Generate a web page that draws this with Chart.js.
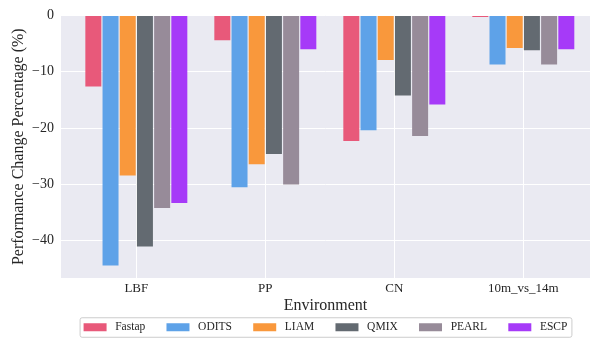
<!DOCTYPE html>
<html lang="en">
<head>
    <meta charset="UTF-8">
    <title>Performance Change Percentage</title>
    <script src="https://cdn.jsdelivr.net/npm/chart.js"></script>
    <style>
        body { margin: 0; background: #fff; }
        #wrap { width: 590px; height: 339px; }
    </style>
</head>
<body>
    <div id="wrap"><canvas id="perfChart" width="590" height="339"></canvas></div>
    <script>
        // Environments on the x axis
        const environments = ['LBF', 'PP', 'CN', '10m_vs_14m'];
        const methods = ['Fastap', 'ODITS', 'LIAM', 'QMIX', 'PEARL', 'ESCP'];
        const colors = ['#E8597A', '#5EA2E8', '#F9983C', '#636A71', '#978B99', '#A63AF8'];

        // performance change (%) per method, one value per environment
        const fastap = [-12.6, -4.4, -22.3, -0.3];
        const odits = [-44.4, -30.5, -20.4, -8.7];
        const liam = [-28.4, -26.4, -7.9, -5.8];
        const qmix = [-41.0, -24.6, -14.2, -6.2];
        const pearl = [-34.2, -30.0, -21.4, -8.7];
        const escp = [-33.3, -6.0, -15.8, -6.0];
        const seriesValues = [fastap, odits, liam, qmix, pearl, escp];

        const yTicks = [-40, -30, -20, -10, 0];

        const serif = 'Liberation Serif, Times New Roman, serif';
        const textColor = '#262626';

        const datasets = methods.map((name, i) => ({
            label: name,
            data: seriesValues[i].map((v, j) => ({ x: j, y: v })),
            backgroundColor: colors[i],
            borderWidth: 0,
            categoryPercentage: 0.8,
            barPercentage: 0.93
        }));

        // grey plot background like seaborn darkgrid
        const plotBackground = {
            id: 'plotBackground',
            beforeDraw(chart) {
                const { ctx, chartArea: a } = chart;
                ctx.save();
                ctx.fillStyle = '#EAEAF2';
                ctx.fillRect(a.left, a.top, a.right - a.left, a.bottom - a.top);
                ctx.restore();
            }
        };

        // frame round the legend
        const legendFrame = {
            id: 'legendFrame',
            afterDraw(chart) {
                const boxes = chart.legend.legendHitBoxes;
                if (!boxes || !boxes.length) return;
                const first = boxes[0];
                const last = boxes[boxes.length - 1];
                const cy = first.top + first.height / 2;
                const x = first.left - 4;
                const w = last.left + last.width + 4 - x;
                const ctx = chart.ctx;
                ctx.save();
                ctx.strokeStyle = '#CCCCCC';
                ctx.lineWidth = 1;
                ctx.beginPath();
                ctx.roundRect(x + 0.5, cy - 9.5, w, 19.5, 2);
                ctx.stroke();
                ctx.restore();
            }
        };

        new Chart(document.getElementById('perfChart'), {
            type: 'bar',
            data: { datasets: datasets },
            options: {
                responsive: false,
                animation: false,
                layout: { padding: { top: 15, right: 0, bottom: -4, left: 0 } },
                scales: {
                    x: {
                        type: 'linear',
                        offset: false,
                        min: -0.584,
                        max: 3.517,
                        afterBuildTicks: axis => { axis.ticks = environments.map((e, i) => ({ value: i })); },
                        afterFit: axis => { axis.height = 39.5; },
                        ticks: {
                            callback: v => environments[v],
                            color: textColor,
                            font: { family: serif, size: 13 },
                            padding: 3,
                            maxRotation: 0
                        },
                        grid: { color: '#FFFFFF', lineWidth: 1, drawTicks: false, offset: false },
                        border: { display: false },
                        title: {
                            display: true,
                            text: 'Environment',
                            color: textColor,
                            font: { family: serif, size: 16 },
                            padding: { top: 0, bottom: 2 }
                        }
                    },
                    y: {
                        min: -46.6,
                        max: 0,
                        afterBuildTicks: axis => { axis.ticks = yTicks.map(v => ({ value: v })); },
                        afterFit: axis => { axis.width = 61; },
                        ticks: {
                            callback: v => (v < 0 ? '\u2212' + Math.abs(v) : String(v)),
                            color: textColor,
                            font: { family: serif, size: 14 },
                            padding: 7
                        },
                        grid: { color: '#FFFFFF', lineWidth: 1, drawTicks: false },
                        border: { display: false },
                        title: {
                            display: true,
                            text: 'Performance Change Percentage (%)',
                            color: textColor,
                            font: { family: serif, size: 16 },
                            padding: { top: 9, bottom: 0 }
                        }
                    }
                },
                plugins: {
                    legend: {
                        position: 'bottom',
                        fullSize: false,
                        labels: {
                            boxWidth: 23,
                            boxHeight: 8,
                            padding: 4,
                            color: textColor,
                            font: { family: serif, size: 11.5 },
                            // spaces give the matplotlib-like gaps between entries
                            generateLabels: chart => {
                                const items = Chart.defaults.plugins.legend.labels.generateLabels(chart);
                                items.forEach((it, i) => {
                                    it.text = ' ' + it.text + (i < items.length - 1 ? '      ' : '');
                                    it.lineWidth = 0;
                                });
                                return items;
                            }
                        }
                    },
                    tooltip: { enabled: false }
                }
            },
            plugins: [plotBackground, legendFrame]
        });
    </script>
</body>
</html>
